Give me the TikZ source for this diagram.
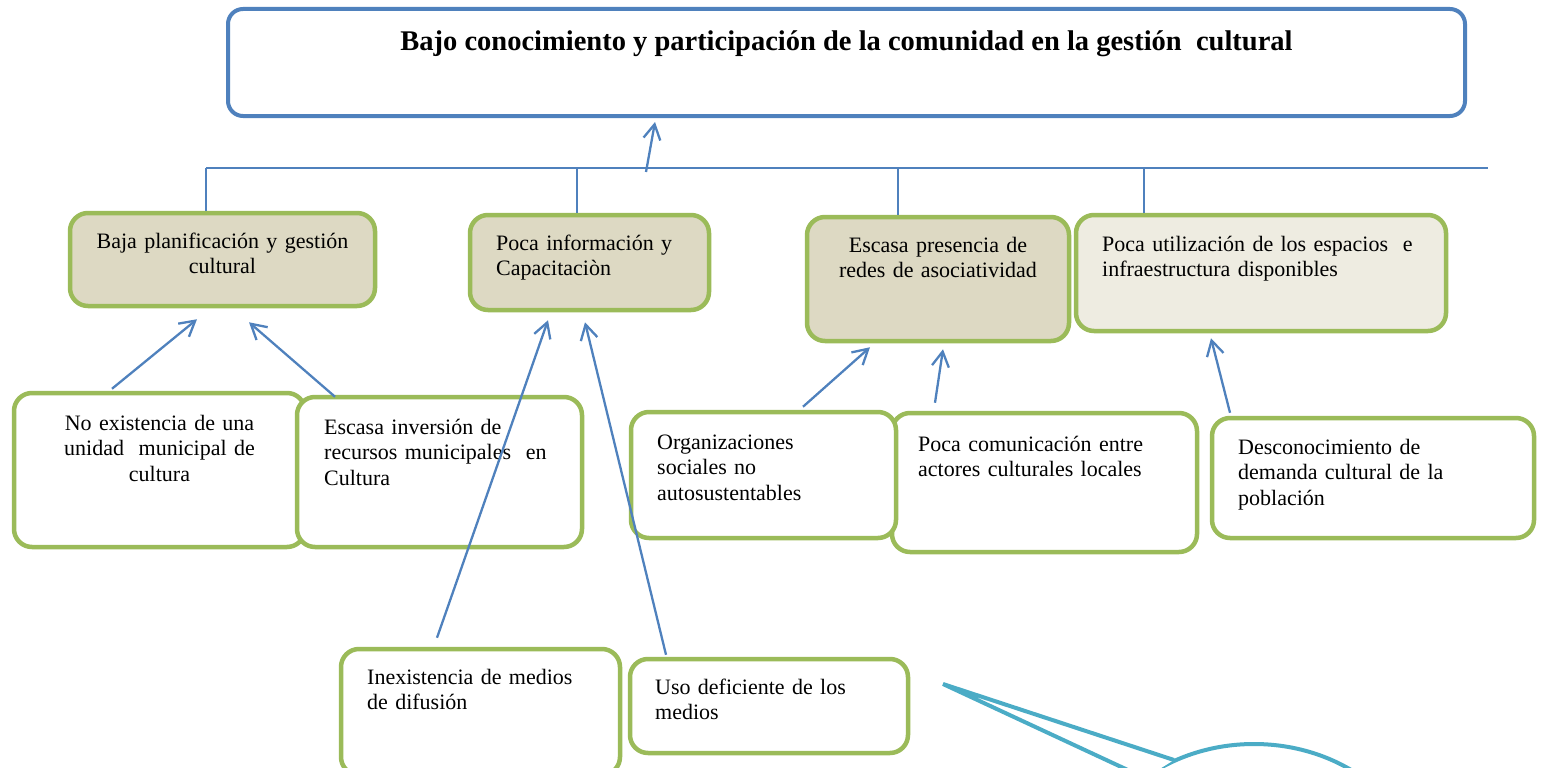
\documentclass[tikz,border=0pt]{standalone}
\usepackage{fontspec}
\setmainfont{Liberation Serif}
\usetikzlibrary{positioning,calc,arrows.meta}

\definecolor{azul}{HTML}{4F81BD}
\definecolor{verde}{HTML}{9BBB59}
\definecolor{beige}{HTML}{DDD9C3}
\definecolor{crema}{HTML}{EEECE1}
\definecolor{celeste}{HTML}{4BACC6}

\tikzset{
  problema/.style={draw=azul, line width=4pt, rounded corners=15pt, fill=white},
  causa/.style={draw=verde, line width=4.5pt, rounded corners=18pt, fill=beige},
  subcausa/.style={causa, fill=white},
  txt/.style={inner sep=0pt, font=\fontsize{22}{25.5}\selectfont},
  txtc/.style={txt, text width=300pt, align=center, anchor=base},
  txtl/.style={txt, text width=330pt, align=left, anchor=base west},
  flecha/.style={draw=azul, line width=2.3pt, -{Straight Barb[length=15pt,width=17pt]}},
  linea/.style={draw=azul, line width=1.5pt},
}

\begin{document}
\begin{tikzpicture}[x=1pt,y=-1pt]
  \useasboundingbox (0,0) rectangle (1545,768);
  \clip (0,0) rectangle (1545,768);

  % problema central
  \node[problema, minimum width=1237pt, minimum height=107pt] (problema) at (846.5,62.5) {};
  \node[txt, font=\bfseries\fontsize{28.5}{32}\selectfont, anchor=base] (problemaT) at (846.5,51)
       {Bajo conocimiento y participación de la comunidad en la gestión~ cultural};

  % causas
  \node[causa, minimum width=305pt, minimum height=93pt] (baja) at (222.5,259.5) {};
  \node[causa, minimum width=239pt, minimum height=95pt] (info) at (589.5,262.5) {};
  \node[causa, minimum width=262pt, minimum height=124pt] (redes) at (938,279) {};
  \node[causa, fill=crema, minimum width=370pt, minimum height=116pt] (espacios) at (1261,273) {};

  \node[txtc] (bajaT) at (222.5,248) {Baja planificación y gestión\\cultural};
  \node[txtl] (infoT) at (496,250) {Poca información y\\Capacitaciòn};
  \node[txtc] (redesT) at (938,252) {Escasa presencia de\\redes de asociatividad};
  \node[txtl] (espaciosT) at (1102,251) {Poca utilización de los espacios~ e\\infraestructura disponibles};

  % subcausas
  \node[subcausa, minimum width=291pt, minimum height=154pt] (unidad) at (159.5,470) {};
  \node[subcausa, minimum width=285pt, minimum height=150pt] (inversion) at (439.5,472) {};
  \node[subcausa, minimum width=305pt, minimum height=139pt] (comunic) at (1044.5,482.5) {};
  \node[subcausa, minimum width=265pt, minimum height=126pt] (organiz) at (763.5,475) {};
  \node[subcausa, minimum width=322pt, minimum height=120pt] (demanda) at (1373,478) {};
  \node[subcausa, minimum width=279pt, minimum height=126pt] (difusion) at (480.5,712) {};
  \node[subcausa, minimum width=278pt, minimum height=94pt] (medios) at (769,706) {};

  \node[txtc] (unidadT) at (159.5,430) {No existencia de una\\unidad~ municipal de\\cultura};
  \node[txtl] (inversionT) at (324,434) {Escasa inversión de\\recursos municipales~ en\\Cultura};
  \node[txtl] (organizT) at (657,449) {Organizaciones\\sociales no\\autosustentables};
  \node[txtl] (comunicT) at (918,451) {Poca comunicación entre\\actores culturales locales};
  \node[txtl] (demandaT) at (1238,454) {Desconocimiento de\\demanda cultural de la\\población};
  \node[txtl] (difusionT) at (367,684) {Inexistencia de medios\\de difusión};
  \node[txtl] (mediosT) at (655,694) {Uso deficiente de los\\medios};

  % conectores superiores
  \coordinate (busI) at (206,168);
  \coordinate (busD) at (1488,168);
  \draw[linea] (busI) -- (busD);
  \draw[linea] (busI) -- (busI |- baja.north);
  \foreach \x/\n in {577/info, 898/redes, 1144/espacios}{
    \coordinate (t\n) at (\x,168);
    \draw[linea] (t\n) -- (t\n |- \n.north);
  }
  \coordinate (flechaIni) at (646,172);
  \draw[flecha] (flechaIni) -- ($(problema.south)+(-191.5,4)$);

  % flechas de subcausas
  \draw[flecha] ($(unidad.north)+(-47.5,-2)$) -- ($(baja.south)+(-25.5,11)$);
  \draw[flecha] ($(inversion.north)+(-104.5,2)$) -- ($(baja.south)+(26.5,14)$);
  \draw[flecha] ($(difusion.north)+(-43.5,-9)$) -- ($(info.south)+(-41.5,8)$);
  \draw[flecha] ($(medios.north)+(-103,-2)$) -- ($(info.south)+(-4.5,10)$);
  \draw[flecha] ($(organiz.north)+(39.5,-3)$) -- ($(redes.south)+(-68,4)$);
  \draw[flecha] ($(comunic.north)+(-109.5,-8)$) -- ($(redes.south)+(5,6)$);
  \draw[flecha] ($(demanda.north)+(-143,-3)$) -- ($(espacios.south)+(-50,5)$);

  % globo
  \coordinate (globo) at (943,684);
  \coordinate (globoA) at (1174,760);
  \coordinate (globoB) at (1145,778);
  \draw[celeste, line width=4pt, fill=white] (1254,889) ellipse [x radius=170pt, y radius=145pt];
  \fill[white] (globo) -- (globoA) -- (globoB) -- cycle;
  \draw[celeste, line width=4pt] (globoA) -- (globo) -- (globoB);
\end{tikzpicture}
\end{document}
